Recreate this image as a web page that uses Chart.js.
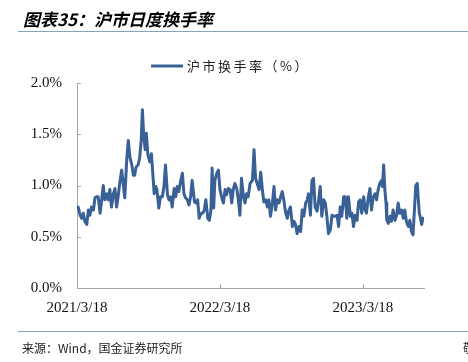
<!DOCTYPE html>
<html><head><meta charset="utf-8">
<script src="https://cdn.jsdelivr.net/npm/chart.js@4"></script>
<style>html,body{margin:0;padding:0;background:#fff;} #wrap{width:468px;height:362px;position:relative}</style>
</head><body><div id="wrap"><canvas id="c" width="468" height="362"></canvas></div>
<script>
const chartTitle = '图表35：沪市日度换手率';
const seriesName = '沪市换手率（%）';
const sourceNote = '来源：Wind，国金证券研究所';
const cutNote = '敬请参阅最后一页特别声明';
const tickDays = [0, 365, 730];
const tickLabels = ['2021/3/18', '2022/3/18', '2023/3/18'];
const yTicks = [0, 0.5, 1.0, 1.5, 2.0];
// trading-day offsets (days since 2021/3/18)
const dayOffsets = [
  0,3,8,12,16,20,25,29,33,37,42,46,50,54,59,63,67,71,76,80,84,88,93,97,101,105,110,114,118,122,127,131,135,140,144,
  147,151,156,160,164,167,170,174,177,181,186,190,194,197,201,204,209,213,218,222,226,231,235,239,243,248,252,256,260,265,269,273,277,282,286,290,294,
  300,304,308,312,317,321,325,329,334,338,342,345,349,352,357,361,365,369,374,378,382,386,391,395,399,403,408,412,416,420,425,429,433,437,442,
  448,452,456,460,465,469,473,477,482,486,490,494,499,503,507,511,516,520,524,528,533,537,541,545,550,554,558,562,567,571,575,579,584,588,
  591,596,600,604,608,613,617,621,625,630,634,638,642,647,651,655,659,664,668,672,676,681,685,689,693,698,702,706,710,715,719,723,727,732,736,
  739,744,748,752,756,761,765,769,773,778,780,783,786,789,791,795,799,803,807,812,816,820,824,829,833,837,841,846,850,854,858,863,865,869,871,874,876,880,883,886
];
// 沪市换手率 (%)
const turnover = [
  0.76,0.79,0.71,0.68,0.73,0.65,0.62,0.76,0.71,0.79,0.76,0.88,0.89,0.89,0.73,0.86,1.00,0.86,0.92,0.86,0.96,0.79,0.92,0.97,0.79,0.89,1.05,1.15,1.02,0.88,1.25,1.44,1.28,1.20,1.10,
  1.10,1.18,1.20,1.27,1.44,1.74,1.51,1.35,1.51,1.30,1.23,1.31,1.09,0.92,0.99,0.96,0.78,0.89,0.89,0.99,1.20,0.91,0.86,0.89,0.79,0.97,0.89,0.99,0.94,1.05,1.12,0.92,0.88,0.86,0.81,0.89,1.05,
  0.84,0.83,0.86,0.68,0.73,0.73,0.76,0.86,0.68,0.66,0.76,1.17,0.78,1.05,1.12,1.15,0.96,0.89,0.83,0.96,0.91,0.97,0.96,0.83,0.96,1.02,0.97,0.86,0.71,1.07,0.89,0.83,0.92,0.89,1.02,
  1.05,1.35,1.07,1.02,0.96,1.13,0.97,0.84,0.86,0.79,0.86,0.70,0.83,0.99,0.76,0.86,0.83,0.89,0.94,0.86,0.73,0.68,0.76,0.79,0.60,0.65,0.62,0.53,0.60,0.55,0.76,0.70,0.83,0.86,
  0.92,0.71,1.05,1.07,0.79,0.75,0.86,0.99,0.70,0.86,0.83,0.70,0.53,0.57,0.71,0.70,0.70,0.71,0.60,0.79,0.70,0.89,0.89,0.68,0.89,0.70,0.73,0.60,0.71,0.66,0.84,0.86,0.73,0.89,0.76,
  0.73,0.89,0.97,0.76,0.88,0.92,0.86,0.96,1.02,1.05,0.99,1.20,0.96,0.83,0.66,0.63,0.70,0.65,0.76,0.66,0.71,0.83,0.73,0.76,0.68,0.76,0.65,0.60,0.66,0.55,0.52,0.86,1.00,1.02,0.89,0.73,0.70,0.62,0.68,0.65
];

const lineColor = '#3a6195';
const axisColor = '#a6a6a6';
const points = dayOffsets.map((d, i) => ({x: d, y: turnover[i]}));

const decor = {
  id: 'decor',
  afterDraw(chart) {
    const ctx = chart.ctx;
    const xs = chart.scales.x, ys = chart.scales.y;
    ctx.save();
    // title
    ctx.fillStyle = '#000';
    ctx.font = 'italic bold 17px "Noto Sans CJK SC"';
    ctx.textBaseline = 'middle';
    ctx.textAlign = 'left';
    ctx.fillText(chartTitle, 23, 20);
    // separator lines
    ctx.strokeStyle = '#8ea2b6';
    ctx.lineWidth = 1;
    ctx.beginPath(); ctx.moveTo(18, 31.5); ctx.lineTo(468, 31.5); ctx.stroke();
    ctx.beginPath(); ctx.moveTo(18, 331.5); ctx.lineTo(468, 331.5); ctx.stroke();
    // source
    ctx.fillStyle = '#222';
    ctx.font = '12px "Noto Sans CJK SC"';
    ctx.fillText(sourceNote, 22, 348);
    ctx.fillText(cutNote, 463, 348);
    // legend
    ctx.strokeStyle = lineColor;
    ctx.lineWidth = 3;
    ctx.beginPath(); ctx.moveTo(151, 66); ctx.lineTo(183, 66); ctx.stroke();
    ctx.fillStyle = '#222';
    ctx.font = '13px "Noto Sans CJK SC"';
    try { ctx.letterSpacing = '2.5px'; } catch(e) {}
    ctx.fillText(seriesName, 187, 66);
    try { ctx.letterSpacing = '0px'; } catch(e) {}
    // inward ticks
    ctx.strokeStyle = axisColor;
    ctx.lineWidth = 1;
    const left = chart.chartArea.left, bottom = chart.chartArea.bottom;
    yTicks.forEach(v => {
      if (v === 0) return;
      const y = Math.round(ys.getPixelForValue(v)) + 0.5;
      ctx.beginPath(); ctx.moveTo(left, y); ctx.lineTo(left + 4, y); ctx.stroke();
    });
    tickDays.forEach(d => {
      if (d === 0) return;
      const x = Math.round(xs.getPixelForValue(d)) + 0.5;
      ctx.beginPath(); ctx.moveTo(x, bottom); ctx.lineTo(x, bottom - 4); ctx.stroke();
    });
    ctx.restore();
  }
};

new Chart(document.getElementById('c'), {
  type: 'line',
  data: {
    datasets: [{
      label: seriesName,
      data: points,
      borderColor: lineColor,
      backgroundColor: lineColor,
      borderWidth: 3,
      pointRadius: 0,
      tension: 0,
      borderJoinStyle: 'round',
      fill: false
    }]
  },
  options: {
    responsive: false,
    animation: false,
    devicePixelRatio: 1,
    layout: { padding: { top: 83, right: 44, bottom: 44, left: 0 } },
    plugins: { legend: { display: false }, title: { display: false }, tooltip: { enabled: false } },
    scales: {
      x: {
        type: 'linear',
        min: 0,
        max: 886,
        grid: { display: false, drawTicks: false },
        border: { display: true, color: axisColor, width: 1 },
        afterBuildTicks: s => { s.ticks = tickDays.map(v => ({value: v})); },
        afterFit: s => { s.height = 30; },
        ticks: {
          autoSkip: false,
          maxRotation: 0,
          padding: 11,
          color: '#111',
          font: { family: '"Liberation Serif"', size: 15 },
          callback: v => { const i = tickDays.indexOf(v); return i >= 0 ? tickLabels[i] : ''; }
        }
      },
      y: {
        min: 0,
        max: 2,
        grid: { display: false, drawTicks: false },
        border: { display: true, color: axisColor, width: 1 },
        afterBuildTicks: s => { s.ticks = yTicks.map(v => ({value: v})); },
        afterFit: s => { s.width = 77; },
        ticks: {
          padding: 15,
          color: '#111',
          font: { family: '"Liberation Serif"', size: 15 },
          callback: v => v.toFixed(1) + '%'
        }
      }
    }
  },
  plugins: [decor]
});
</script>
</body></html>
